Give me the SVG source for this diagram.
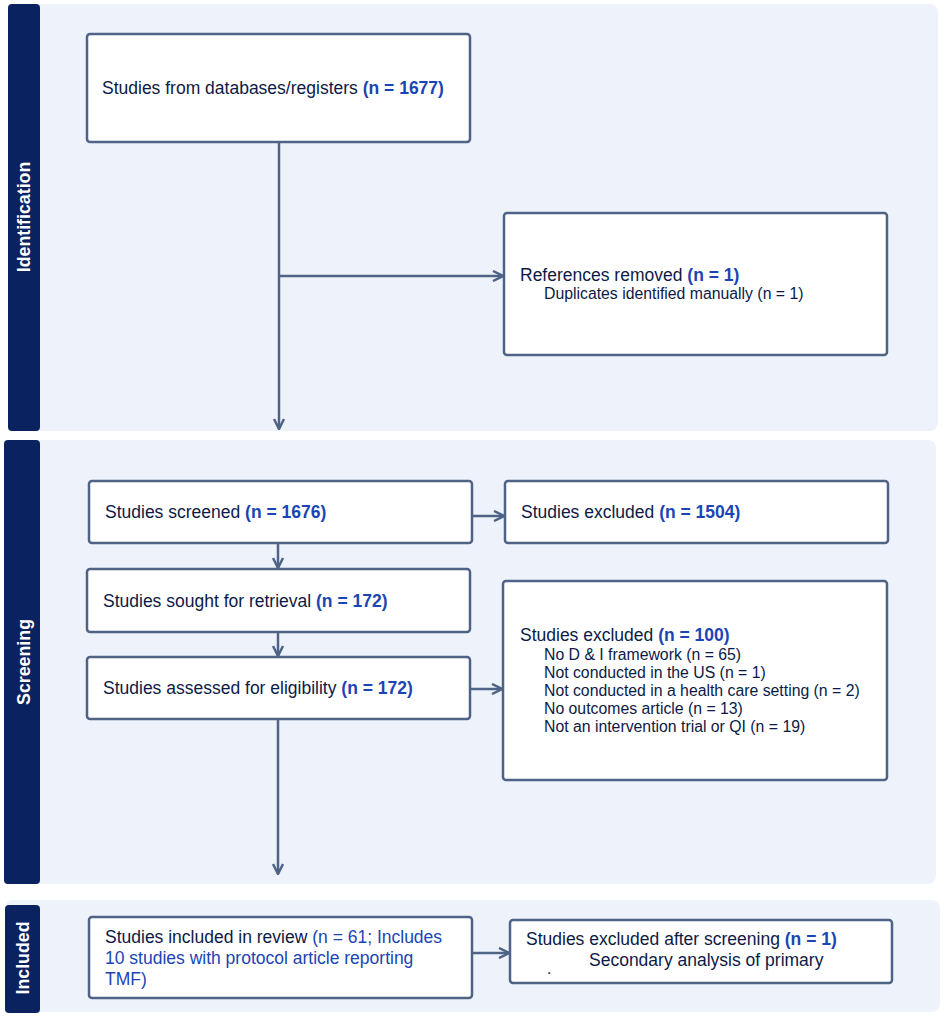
<svg xmlns="http://www.w3.org/2000/svg" width="945" height="1018" viewBox="0 0 945 1018">
<style>
.panel{fill:#eef3fb}
.bar{fill:#0b2260}
.side{font-family:"Liberation Sans",Arial,sans-serif;font-weight:bold;font-size:17.8px;fill:#ffffff;text-anchor:middle}
.box{fill:#ffffff;stroke:#4e6386;stroke-width:2.5}
.t{font-family:"Liberation Sans",Arial,sans-serif;font-size:17.5px;fill:#0d1a45}
.s{font-family:"Liberation Sans",Arial,sans-serif;font-size:15.8px;fill:#0d1a45}
.b{font-weight:bold;fill:#1b45b5}
.bl{fill:#1b45b5}
.c{fill:none;stroke:#4e6386;stroke-width:2.5}
</style>
<defs>
<marker id="arr" viewBox="0 0 12 12" refX="11" refY="6" markerWidth="12" markerHeight="12" markerUnits="userSpaceOnUse" orient="auto">
<path d="M1,1 L11,6 L1,11" fill="none" stroke="#4e6386" stroke-width="2.5"/>
</marker>
</defs>

<g id="sec-identification">
<rect class="panel" x="8" y="4" width="930" height="427" rx="8"/>
<rect class="bar" x="8" y="4" width="32" height="427" rx="4"/>
<text class="side" transform="translate(30,217) rotate(-90)">Identification</text>
</g>
<g id="sec-screening">
<rect class="panel" x="4" y="440" width="932" height="444" rx="8"/>
<rect class="bar" x="4" y="440" width="36" height="444" rx="4"/>
<text class="side" transform="translate(30,662) rotate(-90)">Screening</text>
</g>
<g id="sec-included">
<rect class="panel" x="5" y="900" width="935" height="112" rx="8"/>
<rect class="bar" x="5" y="905" width="35" height="108" rx="4"/>
<text class="side" transform="translate(29,958) rotate(-90)">Included</text>
</g>

<g id="connectors">
<path class="c" d="M279,142 V429" marker-end="url(#arr)"/>
<path class="c" d="M279,276 H503" marker-end="url(#arr)"/>
<path class="c" d="M278,543 V568" marker-end="url(#arr)"/>
<path class="c" d="M278,632 V656" marker-end="url(#arr)"/>
<path class="c" d="M278,719 V874" marker-end="url(#arr)"/>
<path class="c" d="M472,516 H504" marker-end="url(#arr)"/>
<path class="c" d="M470,689 H502" marker-end="url(#arr)"/>
<path class="c" d="M472,953 H509" marker-end="url(#arr)"/>
</g>

<g id="n-databases">
<rect class="box" x="87" y="34" width="383" height="108" rx="3"/>
<text class="t" x="102" y="94">Studies from databases/registers <tspan class="b">(n = 1677)</tspan></text>
</g>
<g id="n-removed">
<rect class="box" x="504" y="213" width="383" height="142" rx="3"/>
<text class="t" x="520" y="281">References removed <tspan class="b">(n = 1)</tspan></text>
<text class="s" x="544" y="299">Duplicates identified manually (n = 1)</text>
</g>
<g id="n-screened">
<rect class="box" x="89" y="481" width="383" height="62" rx="3"/>
<text class="t" x="105" y="518">Studies screened <tspan class="b">(n = 1676)</tspan></text>
</g>
<g id="n-excluded1">
<rect class="box" x="505" y="481" width="383" height="62" rx="3"/>
<text class="t" x="521" y="518">Studies excluded <tspan class="b">(n = 1504)</tspan></text>
</g>
<g id="n-sought">
<rect class="box" x="87" y="569" width="383" height="63" rx="3"/>
<text class="t" x="103" y="607">Studies sought for retrieval <tspan class="b">(n = 172)</tspan></text>
</g>
<g id="n-assessed">
<rect class="box" x="87" y="657" width="383" height="62" rx="3"/>
<text class="t" x="103" y="694">Studies assessed for eligibility <tspan class="b">(n = 172)</tspan></text>
</g>
<g id="n-excluded2">
<rect class="box" x="503" y="581" width="384" height="199" rx="3"/>
<text class="t" x="520" y="641">Studies excluded <tspan class="b">(n = 100)</tspan></text>
<text class="s" x="544" y="660">No D &amp; I framework (n = 65)</text>
<text class="s" x="544" y="678">Not conducted in the US (n = 1)</text>
<text class="s" x="544" y="696">Not conducted in a health care setting (n = 2)</text>
<text class="s" x="544" y="714">No outcomes article (n = 13)</text>
<text class="s" x="544" y="732">Not an intervention trial or QI (n = 19)</text>
</g>
<g id="n-included">
<rect class="box" x="89" y="917" width="383" height="81" rx="3"/>
<text class="t" x="105" y="943">Studies included in review <tspan class="bl">(n = 61; Includes</tspan></text>
<text class="t bl" x="105" y="964">10 studies with protocol article reporting</text>
<text class="t bl" x="105" y="985">TMF)</text>
</g>
<g id="n-excluded3">
<rect class="box" x="510" y="920" width="382" height="63" rx="3"/>
<text class="t" x="526" y="945">Studies excluded after screening <tspan class="b">(n = 1)</tspan></text>
<text class="t" x="589" y="966">Secondary analysis of primary</text>
<text class="s" x="547" y="974">.</text>
</g>
</svg>
